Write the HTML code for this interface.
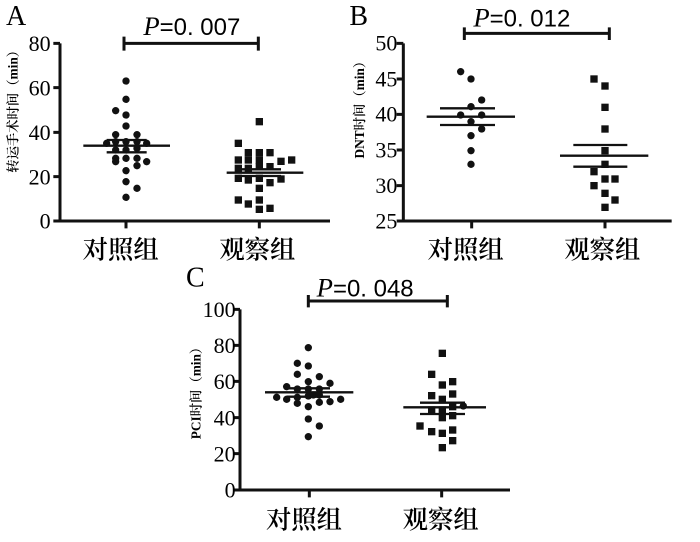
<!DOCTYPE html>
<html><head><meta charset="utf-8"><style>
html,body{margin:0;padding:0;background:#fff;}
svg{display:block}
text{fill:#000}
.n{font-family:"Liberation Serif","Noto Serif CJK SC",serif;font-size:66px}
.c{font-family:"Liberation Serif","Noto Serif CJK SC",serif;font-size:76px;font-weight:600}
.t{font-family:"Liberation Serif",serif;font-size:84px}
.p{font-family:"Liberation Sans",sans-serif;font-size:72px}
.yl{font-family:"Liberation Serif","Noto Serif CJK SC",serif;font-size:40px;font-weight:600}
</style></head><body>
<svg width="700" height="542" viewBox="0 0 700 542" xmlns="http://www.w3.org/2000/svg">
<!-- Panel A -->
<g transform="scale(0.33333)" stroke="#111" fill="none" stroke-width="9">
<path d="M180 130V663H990M160 130H180M160 263H180M160 397H180M160 530H180M160 663H180M378 663V685M778 663V685"/>
<path d="M372 130H775M372 110V152M775 110V152"/>
<path d="M250 437H510M320 420H440M320 457H440M680 518H910M715 508H843M715 528H843" stroke-width="7"/>
<g fill="#111" stroke="none">
<circle cx="378" cy="243" r="11"/><circle cx="378" cy="298" r="11"/><circle cx="347" cy="332" r="11"/><circle cx="378" cy="345" r="11"/><circle cx="378" cy="378" r="11"/><circle cx="347" cy="404" r="11"/><circle cx="411" cy="404" r="11"/><circle cx="347" cy="425" r="11"/><circle cx="378" cy="425" r="11"/><circle cx="411" cy="425" r="11"/><circle cx="440" cy="430" r="11"/><circle cx="320" cy="430" r="11"/><circle cx="347" cy="450" r="11"/><circle cx="378" cy="450" r="11"/><circle cx="411" cy="445" r="11"/><circle cx="347" cy="475" r="11"/><circle cx="378" cy="475" r="11"/><circle cx="411" cy="475" r="11"/><circle cx="440" cy="485" r="11"/><circle cx="347" cy="485" r="11"/><circle cx="411" cy="497" r="11"/><circle cx="378" cy="512" r="11"/><circle cx="378" cy="545" r="11"/><circle cx="411" cy="565" r="11"/><circle cx="378" cy="592" r="11"/>
<g transform="translate(-11,-11)">
<rect x="778" y="365" width="22" height="22"/><rect x="715" y="430" width="22" height="22"/><rect x="715" y="480" width="22" height="22"/><rect x="745" y="458" width="22" height="22"/><rect x="778" y="458" width="22" height="22"/><rect x="810" y="458" width="22" height="22"/><rect x="745" y="480" width="22" height="22"/><rect x="778" y="480" width="22" height="22"/><rect x="843" y="484" width="22" height="22"/><rect x="875" y="480" width="22" height="22"/><rect x="715" y="505" width="22" height="22"/><rect x="745" y="505" width="22" height="22"/><rect x="778" y="500" width="22" height="22"/><rect x="810" y="500" width="22" height="22"/><rect x="843" y="537" width="22" height="22"/><rect x="715" y="535" width="22" height="22"/><rect x="745" y="540" width="22" height="22"/><rect x="778" y="535" width="22" height="22"/><rect x="810" y="548" width="22" height="22"/><rect x="778" y="565" width="22" height="22"/><rect x="715" y="600" width="22" height="22"/><rect x="745" y="612" width="22" height="22"/><rect x="778" y="600" width="22" height="22"/><rect x="778" y="628" width="22" height="22"/><rect x="810" y="625" width="22" height="22"/>
</g>
<text class="t" x="18" y="75">A</text>
<text class="p" x="430" y="105"><tspan font-style="italic" font-family="Liberation Serif" font-size="80">P</tspan>=0. 007</text>
<g class="n" text-anchor="end"><text x="152" y="153">80</text><text x="152" y="286">60</text><text x="152" y="420">40</text><text x="152" y="553">20</text><text x="152" y="686">0</text></g>
<g class="c" text-anchor="middle"><text x="362" y="775">对照组</text><text x="772" y="775">观察组</text></g>
<text class="yl" transform="translate(52,325) rotate(-90)" text-anchor="middle">转运手术时间（min）</text>
</g>
</g>
<!-- Panel B -->
<g transform="translate(340,0) scale(0.33333)" stroke="#111" fill="none" stroke-width="9">
<path d="M190 130V663H995M170 130H190M170 237H190M170 343H190M170 450H190M170 557H190M170 663H190M395 663V685M795 663V685"/>
<path d="M373 100H808M373 82V120M808 82V120"/>
<path d="M260 350H525M300 325H465M300 375H465M660 467H925M700 435H862M700 500H862" stroke-width="7"/>
<g fill="#111" stroke="none">
<circle cx="362" cy="215" r="11"/><circle cx="393" cy="237" r="11"/><circle cx="425" cy="300" r="11"/><circle cx="393" cy="320" r="11"/><circle cx="362" cy="345" r="11"/><circle cx="425" cy="345" r="11"/><circle cx="393" cy="365" r="11"/><circle cx="425" cy="387" r="11"/><circle cx="393" cy="407" r="11"/><circle cx="393" cy="452" r="11"/><circle cx="393" cy="493" r="11"/>
<g transform="translate(-11,-11)">
<rect x="762" y="237" width="22" height="22"/><rect x="795" y="258" width="22" height="22"/><rect x="795" y="322" width="22" height="22"/><rect x="795" y="387" width="22" height="22"/><rect x="795" y="452" width="22" height="22"/><rect x="762" y="515" width="22" height="22"/><rect x="795" y="493" width="22" height="22"/><rect x="762" y="557" width="22" height="22"/><rect x="825" y="537" width="22" height="22"/><rect x="795" y="537" width="22" height="22"/><rect x="795" y="580" width="22" height="22"/><rect x="825" y="600" width="22" height="22"/><rect x="795" y="622" width="22" height="22"/>
</g>
<text class="t" x="28" y="75">B</text>
<text class="p" x="400" y="80"><tspan font-style="italic" font-family="Liberation Serif" font-size="80">P</tspan>=0. 012</text>
<g class="n" text-anchor="end"><text x="172" y="152">50</text><text x="172" y="259">45</text><text x="172" y="365">40</text><text x="172" y="472">35</text><text x="172" y="579">30</text><text x="172" y="686">25</text></g>
<g class="c" text-anchor="middle"><text x="377" y="775">对照组</text><text x="787" y="775">观察组</text></g>
<text class="yl" transform="translate(72,320) rotate(-90)" text-anchor="middle">DNT时间（min）</text>
</g>
</g>
<!-- Panel C -->
<g transform="translate(180,270) scale(0.33333)" stroke="#111" fill="none" stroke-width="9">
<path d="M180 118V660H990M160 118H180M160 226H180M160 334H180M160 443H180M160 551H180M160 660H180M388 660V682M785 660V682"/>
<path d="M385 93H802M385 75V112M802 75V112"/>
<path d="M255 367H520M320 355H450M320 380H450M670 412H918M720 398H855M720 432H855" stroke-width="7"/>
<g fill="#111" stroke="none">
<circle cx="385" cy="233" r="11"/><circle cx="352" cy="280" r="11"/><circle cx="385" cy="288" r="11"/><circle cx="352" cy="313" r="11"/><circle cx="418" cy="320" r="11"/><circle cx="385" cy="335" r="11"/><circle cx="450" cy="340" r="11"/><circle cx="320" cy="350" r="11"/><circle cx="352" cy="357" r="11"/><circle cx="385" cy="357" r="11"/><circle cx="418" cy="357" r="11"/><circle cx="290" cy="382" r="11"/><circle cx="320" cy="388" r="11"/><circle cx="352" cy="382" r="11"/><circle cx="385" cy="378" r="11"/><circle cx="400" cy="375" r="11"/><circle cx="418" cy="375" r="11"/><circle cx="482" cy="388" r="11"/><circle cx="352" cy="400" r="11"/><circle cx="385" cy="410" r="11"/><circle cx="418" cy="397" r="11"/><circle cx="450" cy="395" r="11"/><circle cx="385" cy="447" r="11"/><circle cx="418" cy="468" r="11"/><circle cx="385" cy="500" r="11"/><circle cx="850" cy="408" r="11"/>
<g transform="translate(-11,-11)">
<rect x="787" y="250" width="22" height="22"/><rect x="755" y="313" width="22" height="22"/><rect x="787" y="345" width="22" height="22"/><rect x="818" y="335" width="22" height="22"/><rect x="818" y="372" width="22" height="22"/><rect x="755" y="377" width="22" height="22"/><rect x="787" y="388" width="22" height="22"/><rect x="818" y="410" width="22" height="22"/><rect x="755" y="420" width="22" height="22"/><rect x="787" y="420" width="22" height="22"/><rect x="787" y="443" width="22" height="22"/><rect x="818" y="437" width="22" height="22"/><rect x="720" y="468" width="22" height="22"/><rect x="755" y="485" width="22" height="22"/><rect x="787" y="490" width="22" height="22"/><rect x="818" y="480" width="22" height="22"/><rect x="818" y="512" width="22" height="22"/><rect x="787" y="533" width="22" height="22"/>
</g>
<text class="t" x="18" y="50">C</text>
<text class="p" x="410" y="80"><tspan font-style="italic" font-family="Liberation Serif" font-size="80">P</tspan>=0. 048</text>
<g class="n" text-anchor="end"><text x="167" y="141">100</text><text x="167" y="249">80</text><text x="167" y="357">60</text><text x="167" y="466">40</text><text x="167" y="574">20</text><text x="167" y="683">0</text></g>
<g class="c" text-anchor="middle"><text x="372" y="775">对照组</text><text x="782" y="775">观察组</text></g>
<text class="yl" transform="translate(62,360) rotate(-90)" text-anchor="middle">PCI时间（min）</text>
</g>
</g>
</svg>
</body></html>
